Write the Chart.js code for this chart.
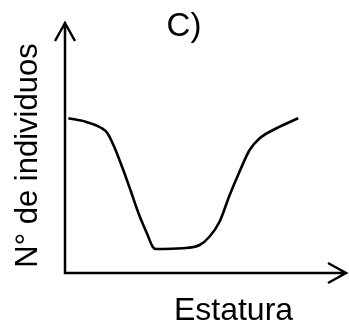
<!DOCTYPE html>
<html>
<head>
<meta charset="utf-8">
<script src="https://cdn.jsdelivr.net/npm/chart.js@4/dist/chart.umd.min.js"></script>
<style>
    html, body { margin: 0; padding: 0; background: #fff; }
    #wrap { width: 349px; height: 325px; }
</style>
</head>
<body>
<div id="wrap"><canvas id="chart"></canvas></div>
<script>
// Hand-drawn curve (arbitrary units).
const ESTATURA = [1.2, 7.4, 12.8, 15.1, 17.5, 20.5, 23.5, 26.4, 29.4, 31.2, 32.3, 41.9, 47.9, 51.4, 55.0, 58.6, 62.1, 65.7, 69.3, 75.3, 83.0];
const INDIVIDUOS = [61.9, 60.5, 58.1, 55.9, 50.5, 41.9, 32.5, 23.2, 15.2, 10.5, 9.6, 9.9, 11.2, 14.5, 20.5, 31.2, 40.5, 49.2, 53.9, 57.9, 61.9];

const TITLE = "C)";
const X_LABEL = "Estatura";
const Y_LABEL = "N° de individuos";

const FAMILY = "'Liberation Sans', Arial, sans-serif";

// Axes with arrow heads and the three labels.
const sketchAxes = {
    id: 'sketchAxes',
    afterDraw(chart) {
        const ctx = chart.ctx;
        const x = chart.scales.x;
        const y = chart.scales.y;
        const x0 = x.getPixelForValue(0);
        const y0 = y.getPixelForValue(0);
        const yTip = 23;
        const xTip = 346;

        ctx.save();
        ctx.strokeStyle = '#000';
        ctx.lineWidth = 2.5;
        ctx.lineCap = 'butt';
        ctx.lineJoin = 'miter';

        ctx.beginPath();
        ctx.moveTo(x0, y0 + 1.2);
        ctx.lineTo(x0, yTip);
        ctx.moveTo(x0 - 10, yTip + 18);
        ctx.lineTo(x0, yTip);
        ctx.lineTo(x0 + 10, yTip + 18);

        ctx.moveTo(x0 - 1.2, y0);
        ctx.lineTo(xTip, y0);
        ctx.moveTo(xTip - 18, y0 - 10);
        ctx.lineTo(xTip, y0);
        ctx.lineTo(xTip - 18, y0 + 10);
        ctx.stroke();

        ctx.fillStyle = '#000';
        ctx.textAlign = 'center';
        ctx.textBaseline = 'alphabetic';
        ctx.font = `33px ${FAMILY}`;
        ctx.fillText(TITLE, 184, 35.5);
        ctx.font = `32px ${FAMILY}`;
        ctx.fillText(X_LABEL, 233.5, 319.5);

        ctx.font = `31px ${FAMILY}`;
        ctx.translate(36.5, 155.5);
        ctx.rotate(-Math.PI / 2);
        ctx.fillText(Y_LABEL, 0, 0);
        ctx.restore();
    }
};

new Chart(document.getElementById("chart"), {
    type: 'line',
    data: {
        datasets: [{
            data: ESTATURA.map((v, i) => ({ x: v, y: INDIVIDUOS[i] })),
            borderColor: '#000',
            borderWidth: 2.6,
            pointRadius: 0,
            cubicInterpolationMode: 'monotone',
            fill: false,
        }],
    },
    options: {
        responsive: true,
        maintainAspectRatio: false,
        animation: false,
        events: [],
        layout: {
            padding: { left: 65, top: 38, right: 3, bottom: 52 },
        },
        plugins: {
            legend: { display: false },
            tooltip: { enabled: false },
        },
        scales: {
            x: { type: 'linear', display: false, min: 0, max: 100 },
            y: { type: 'linear', display: false, min: 0, max: 94 },
        },
    },
    plugins: [sketchAxes],
});
</script>
</body>
</html>
